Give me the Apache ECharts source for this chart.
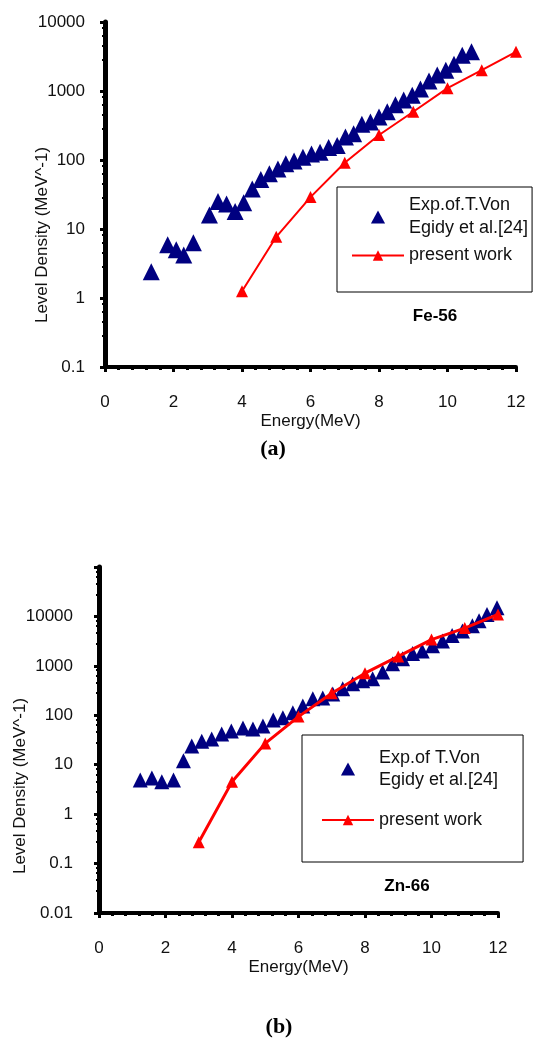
<!DOCTYPE html>
<html>
<head>
<meta charset="utf-8">
<script src="https://cdn.jsdelivr.net/npm/echarts/dist/echarts.min.js"></script>
<style>
  html, body { margin: 0; padding: 0; background: #fff; }
  #main { width: 560px; height: 1055px; }
</style>
</head>
<body>
<div id="main"></div>
<script>
// (a) Fe-56
const feExpEnergy = [1.35, 1.83, 2.08, 2.3, 2.58, 3.05, 3.3, 3.55, 3.8, 4.05, 4.3, 4.55, 4.8, 5.05, 5.28, 5.52, 5.78, 6.03, 6.28, 6.53, 6.78, 7.02, 7.26, 7.5, 7.75, 8.0, 8.24, 8.48, 8.72, 8.97, 9.21, 9.46, 9.7, 9.95, 10.19, 10.43, 10.7]
const feExpDensity = [2.4, 5.9, 5.0, 4.2, 6.3, 16, 25, 23, 18, 24, 38, 52, 63, 74, 88, 97, 110, 122, 130, 152, 162, 215, 240, 330, 355, 420, 500, 630, 740, 870, 1070, 1400, 1700, 2000, 2450, 3300, 3700]
const feCalcEnergy = [4, 5, 6, 7, 8, 9, 10, 11, 12]
const feCalcDensity = [1.25, 7.7, 29, 91, 230, 500, 1100, 2000, 3700]

// (b) Zn-66
const znExpEnergy = [1.24, 1.59, 1.89, 2.24, 2.54, 2.79, 3.09, 3.39, 3.69, 3.98, 4.33, 4.63, 4.93, 5.24, 5.53, 5.83, 6.13, 6.43, 6.73, 7.03, 7.33, 7.63, 7.93, 8.23, 8.53, 8.83, 9.13, 9.43, 9.72, 10.03, 10.33, 10.62, 10.93, 11.23, 11.43, 11.67, 11.97]
const znExpDensity = [4.9, 5.4, 4.5, 4.9, 12, 24, 30, 33, 42, 48, 55, 53, 61, 80, 89, 112, 155, 215, 225, 270, 345, 435, 500, 550, 750, 1100, 1400, 1780, 2000, 2560, 3200, 4100, 5100, 6500, 8200, 11000, 15000]
const znCalcEnergy = [3, 4, 5, 6, 7, 8, 9, 10, 11, 12]
const znCalcDensity = [0.27, 4.5, 27, 94, 280, 710, 1550, 3400, 5800, 11000]

const feExpName = 'Exp.of.T.Von\nEgidy et al.[24]'
const znExpName = 'Exp.of T.Von\nEgidy et al.[24]'
const calcName = 'present work'

const zip = (xs, ys) => xs.map((x, i) => [x, ys[i]])

const FONT = 'Liberation Sans, Arial, sans-serif'
const textColor = '#111'
// triangle drawn as a path so the legend keeps its aspect
const triIcon = 'path://M6,0 L12,11 L0,11 Z'

function energyAxis(gridIndex) {
  return {
    type: 'value',
    gridIndex: gridIndex,
    min: 0,
    max: 12,
    interval: 2,
    name: 'Energy(MeV)',
    nameLocation: 'middle',
    nameGap: 46,
    nameTextStyle: { fontSize: 17, color: textColor, fontFamily: FONT },
    axisLine: { show: true, onZero: false, lineStyle: { color: '#000', width: 4 } },
    axisTick: { show: true, length: 5, lineStyle: { color: '#000', width: 3 } },
    minorTick: { show: true, splitNumber: 5, length: 3, lineStyle: { color: '#000', width: 3 } },
    axisLabel: { fontSize: 17, color: textColor, fontFamily: FONT, margin: 27 },
    splitLine: { show: false }
  }
}

function densityAxis(gridIndex, min, max, margin) {
  return {
    type: 'log',
    logBase: 10,
    gridIndex: gridIndex,
    min: min,
    max: max,
    axisLine: { show: true, onZero: false, lineStyle: { color: '#000', width: 5 } },
    axisTick: { show: true, length: 5, lineStyle: { color: '#000', width: 3 } },
    minorTick: { show: true, splitNumber: 5, length: 3, lineStyle: { color: '#000', width: 2 } },
    axisLabel: {
      fontSize: 17,
      color: textColor,
      fontFamily: FONT,
      margin: margin,
      formatter: v => (v > 10000 ? '' : String(v))
    },
    splitLine: { show: false }
  }
}

const chart = echarts.init(document.getElementById('main'))

const option = {
  animation: false,
  backgroundColor: '#fff',
  grid: [
    { left: 105, right: 44, top: 22, bottom: 688 },
    { left: 99, right: 62, top: 567, bottom: 142 }
  ],
  xAxis: [energyAxis(0), energyAxis(1)],
  yAxis: [densityAxis(0, 0.1, 10000, 20), densityAxis(1, 0.01, 100000, 26)],
  legend: [
    {
      data: [{ name: feExpName, icon: triIcon }, calcName],
      orient: 'vertical',
      left: 337,
      top: 187,
      borderColor: '#000',
      borderWidth: 1,
      padding: [7, 4, 25, 14],
      itemGap: 4,
      itemWidth: 52,
      itemHeight: 13,
      symbolKeepAspect: true,
      selectedMode: false,
      textStyle: { fontSize: 18, lineHeight: 23, color: textColor, fontFamily: FONT }
    },
    {
      data: [{ name: znExpName, icon: triIcon }, calcName],
      orient: 'vertical',
      left: 302,
      top: 735,
      borderColor: '#000',
      borderWidth: 1,
      padding: [12, 25, 31, 19],
      itemGap: 18,
      itemWidth: 52,
      itemHeight: 13,
      symbolKeepAspect: true,
      selectedMode: false,
      textStyle: { fontSize: 18, lineHeight: 22, color: textColor, fontFamily: FONT }
    }
  ],
  graphic: [
    {
      type: 'text', x: 42, y: 235, rotation: Math.PI / 2,
      style: { text: 'Level Density (MeV^-1)', font: '17px ' + FONT, fill: textColor, align: 'center', verticalAlign: 'middle' }
    },
    {
      type: 'text', x: 20, y: 786, rotation: Math.PI / 2,
      style: { text: 'Level Density (MeV^-1)', font: '17px ' + FONT, fill: textColor, align: 'center', verticalAlign: 'middle' }
    },
    {
      type: 'text', x: 435, y: 316,
      style: { text: 'Fe-56', font: 'bold 17px ' + FONT, fill: '#000', align: 'center', verticalAlign: 'middle' }
    },
    {
      type: 'text', x: 407, y: 886,
      style: { text: 'Zn-66', font: 'bold 17px ' + FONT, fill: '#000', align: 'center', verticalAlign: 'middle' }
    },
    {
      type: 'text', x: 273, y: 449,
      style: { text: '(a)', font: 'bold 22px Liberation Serif, serif', fill: '#000', align: 'center', verticalAlign: 'middle' }
    },
    {
      type: 'text', x: 279, y: 1027,
      style: { text: '(b)', font: 'bold 22px Liberation Serif, serif', fill: '#000', align: 'center', verticalAlign: 'middle' }
    }
  ],
  series: [
    {
      name: feExpName,
      type: 'scatter',
      xAxisIndex: 0,
      yAxisIndex: 0,
      symbol: 'triangle',
      symbolSize: 17,
      itemStyle: { color: '#000080', opacity: 1 },
      data: zip(feExpEnergy, feExpDensity)
    },
    {
      name: calcName,
      type: 'line',
      xAxisIndex: 0,
      yAxisIndex: 0,
      symbol: 'triangle',
      symbolSize: 12,
      lineStyle: { color: '#ff0000', width: 2 },
      itemStyle: { color: '#ff0000' },
      data: zip(feCalcEnergy, feCalcDensity)
    },
    {
      name: znExpName,
      type: 'scatter',
      xAxisIndex: 1,
      yAxisIndex: 1,
      symbol: 'triangle',
      symbolSize: 15,
      itemStyle: { color: '#000080', opacity: 1 },
      data: zip(znExpEnergy, znExpDensity)
    },
    {
      name: calcName,
      type: 'line',
      xAxisIndex: 1,
      yAxisIndex: 1,
      symbol: 'triangle',
      symbolSize: 12,
      lineStyle: { color: '#ff0000', width: 3 },
      itemStyle: { color: '#ff0000' },
      data: zip(znCalcEnergy, znCalcDensity)
    }
  ]
}

chart.setOption(option)
</script>
</body>
</html>
